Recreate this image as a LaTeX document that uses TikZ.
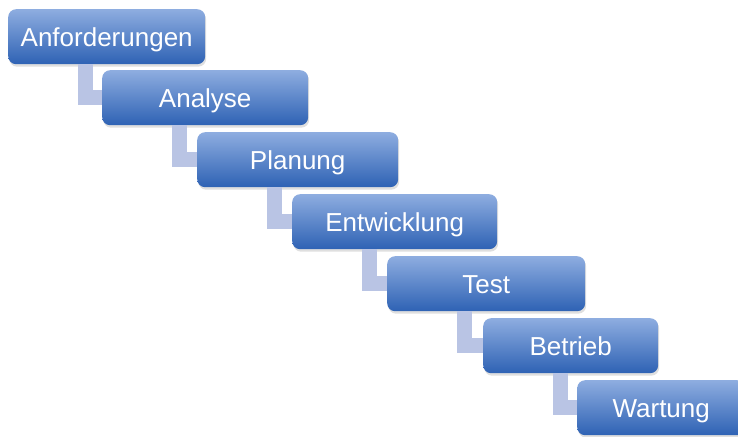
\documentclass[tikz,border=0pt]{standalone}
\usepackage{fontspec}
\setmainfont{Liberation Sans}
\usetikzlibrary{shadows}
\definecolor{c1}{HTML}{8EADE0}
\definecolor{c2}{HTML}{2E62B4}
\definecolor{c3}{HTML}{B9C4E4}
\begin{document}
\begin{tikzpicture}[x=1pt, y=-1pt,
  box/.style={rounded corners=8pt, minimum height=55pt, anchor=north west,
              inner sep=0pt, text=white, top color=c1, bottom color=c2,
              text height=19pt, text depth=0pt,
              font=\fontsize{26}{30}\selectfont,
              drop shadow={shadow xshift=1pt, shadow yshift=-2.5pt, opacity=0.25}},
  link/.style={line width=15pt, draw=c3}
]
  \useasboundingbox (0,0) rectangle (738,436);
  % Phases
  \node[box, minimum width=197pt] (anf)  at (8,9)    {Anforderungen};
  \node[box, minimum width=206pt] (ana)  at (102,70) {Analyse};
  \node[box, minimum width=201pt] (plan) at (197,132) {Planung};
  \node[box, minimum width=205pt] (entw) at (292,194) {Entwicklung};
  \node[box, minimum width=198pt] (test) at (387,256) {Test};
  \node[box, minimum width=175pt] (betr) at (483,318) {Betrieb};
  \node[box, minimum width=168pt] (wart) at (577,380) {Wartung};

  % Links
  \draw[link] (anf.south west)  ++(77,0) |- (ana.west);
  \draw[link] (ana.south west)  ++(77,0) |- (plan.west);
  \draw[link] (plan.south west) ++(77,0) |- (entw.west);
  \draw[link] (entw.south west) ++(77,0) |- (test.west);
  \draw[link] (test.south west) ++(77,0) |- (betr.west);
  \draw[link] (betr.south west) ++(77,0) |- (wart.west);
\end{tikzpicture}
\end{document}
